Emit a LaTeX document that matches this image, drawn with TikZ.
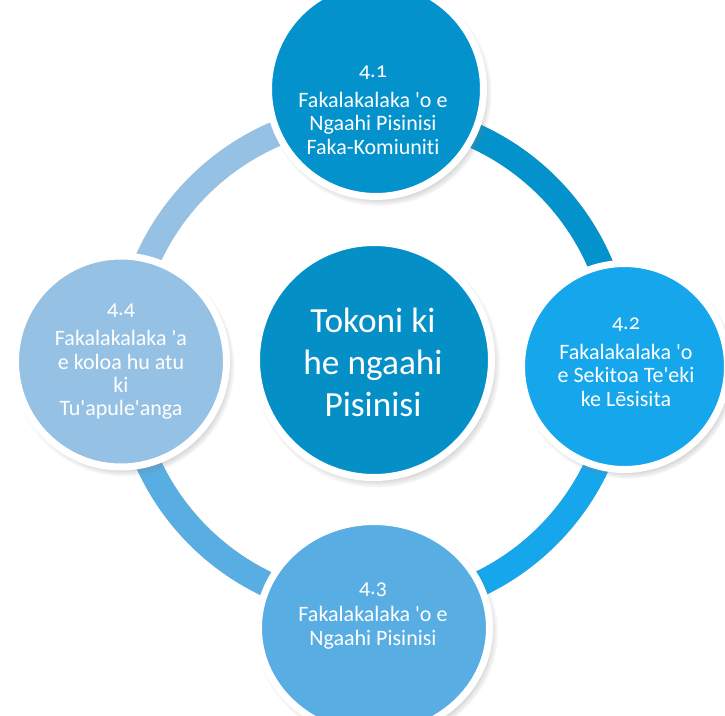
\documentclass[tikz,border=0pt]{standalone}
\usepackage{fontspec}
\newfontfamily\diagfont{Carlito}[Numbers=OldStyle,Ligatures=NoCommon]
\usetikzlibrary{shadows,shapes.geometric}
\definecolor{cTop}{RGB}{4,146,204}
\definecolor{cRight}{RGB}{22,166,235}
\definecolor{cBottom}{RGB}{88,173,226}
\definecolor{cLeft}{RGB}{149,193,228}
\definecolor{cCenter}{RGB}{4,143,198}
\begin{document}
\begin{tikzpicture}[x=0.75pt,y=0.75pt,
  ringarc/.style={line width=19pt},
  arcshadow/.style={line width=19pt, draw=black, opacity=0.12},
  bubble/.style={circle, draw=white, line width=5.25pt, inner sep=0pt,
    circular drop shadow={shadow xshift=2pt, shadow yshift=-3pt, opacity=0.7, shadow scale=1.05}},
  outertext/.style={text=white, align=center, inner sep=0pt,
    font=\diagfont\fontsize{16.5}{17.5}\selectfont},
  centertext/.style={text=white, align=center, inner sep=0pt,
    font=\diagfont\fontsize{26.5}{31.5}\selectfont},
  ]
\path[use as bounding box] (0,0) rectangle (725,-715);
\clip (0,0) rectangle (725,-715);

\coordinate (ring) at (373,-361);

% arc shadows
\begin{scope}[shift={(3,-5)}]
  \foreach \a in {90,0,-90,-180}{
    \draw[arcshadow] ([shift={(\a:247)}]ring) arc[start angle=\a, end angle=\a-90, radius=247];
  }
\end{scope}
\begin{scope}[shift={(1.5,-3)}]
  \foreach \a in {90,0,-90,-180}{
    \draw[arcshadow] ([shift={(\a:247)}]ring) arc[start angle=\a, end angle=\a-90, radius=247];
  }
\end{scope}

% ring arcs
\draw[ringarc, draw=cTop]    ([shift={(90:247)}]ring)   arc[start angle=90,   end angle=0,    radius=247];
\draw[ringarc, draw=cRight]  ([shift={(0:247)}]ring)    arc[start angle=0,    end angle=-90,  radius=247];
\draw[ringarc, draw=cBottom] ([shift={(-90:247)}]ring)  arc[start angle=-90,  end angle=-180, radius=247];
\draw[ringarc, draw=cLeft]   ([shift={(180:247)}]ring)  arc[start angle=180,  end angle=90,   radius=247];

% outer bubbles
\node[bubble, fill=cTop, minimum size=161.25pt] (top) at (376,-89) {};
\node[bubble, fill=cRight, minimum size=154.5pt] (right) at (624.5,-366.5) {};
\node[bubble, fill=cLeft, minimum size=158.25pt] (left) at (121,-361.5) {};
\node[bubble, ellipse, fill=cBottom, minimum width=173.25pt, minimum height=159.75pt] (bottom) at (374,-628) {};

% centre bubble
\node[bubble, fill=cCenter, minimum size=176.25pt] (center) at (374,-360) {};

% texts
\node[outertext] (ttop) at (373,-110) {4.1\\[5pt]Fakalakalaka 'o e\\Ngaahi Pisinisi\\Faka-Komiuniti};
\node[outertext] (tright) at (626,-362) {4.2\\[5pt]Fakalakalaka 'o\\e Sekitoa Te'eki\\ke Lēsisita};
\node[outertext] (tleft) at (121,-362) {4.4\\[5pt]Fakalakalaka 'a\\e koloa hu atu\\ki\\Tu'apule'anga};
\node[outertext] (tbottom) at (373,-616) {4.3\\[3pt]Fakalakalaka 'o e\\Ngaahi Pisinisi};
\node[centertext] (tcenter) at (373,-362) {Tokoni ki\\he ngaahi\\Pisinisi};
\end{tikzpicture}
\end{document}
